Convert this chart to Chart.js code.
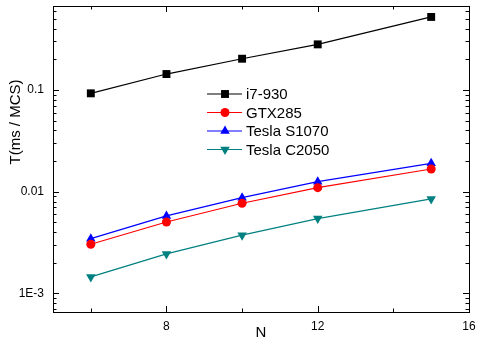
<!DOCTYPE html>
<html>
<head>
<meta charset="utf-8">
<script src="https://cdn.jsdelivr.net/npm/chart.js@4.4.0/dist/chart.umd.min.js"></script>
<style>
  html, body { margin: 0; padding: 0; background: #fff; }
  #wrap { width: 480px; height: 341px; }
</style>
</head>
<body>
<div id="wrap"><canvas id="timingChart" width="480" height="341"></canvas></div>
<script>
// N values
const xValues = [6, 8, 10, 12, 15];

// T (ms / MCS) per series
const i7Values = [0.0927, 0.1435, 0.203, 0.281, 0.523];
const gtx285Values = [0.00304, 0.00503, 0.00769, 0.01094, 0.0167];
const s1070Values = [0.00345, 0.00577, 0.00873, 0.01254, 0.019];
const c2050Values = [0.00145, 0.00244, 0.00373, 0.00543, 0.00848];

const seriesNames = ['i7-930', 'GTX285', 'Tesla S1070', 'Tesla C2050'];

// axis ticks
const xMajorTicks = [8, 12, 16];
const xMinorTicks = [6, 10, 14];
const yTickValues = [0.001, 0.01, 0.1];
const yTickLabels = ['1E-3', '0.01', '0.1'];

const FONT = '"Liberation Sans", Arial, sans-serif';

function pts(ys) {
  return xValues.map((x, i) => ({ x: x, y: ys[i] }));
}

const styles = [
  { color: '#000000', pointStyle: 'rect', radius: 5.6, rotation: 0 },
  { color: '#ff0000', pointStyle: 'circle', radius: 4.5, rotation: 0 },
  { color: '#0000ff', pointStyle: 'triangle', radius: 5.5, rotation: 0 },
  { color: '#008080', pointStyle: 'triangle', radius: 5.5, rotation: 180 }
];

const allValues = [i7Values, gtx285Values, s1070Values, c2050Values];

const datasets = allValues.map((vals, i) => ({
  label: seriesNames[i],
  data: pts(vals),
  borderColor: styles[i].color,
  backgroundColor: styles[i].color,
  borderWidth: 1.2,
  pointStyle: styles[i].pointStyle,
  pointRadius: styles[i].radius,
  pointRotation: styles[i].rotation,
  pointBorderWidth: 0,
  tension: 0
}));

const framePlugin = {
  id: 'frame',
  afterDraw(chart) {
    const ctx = chart.ctx;
    const a = chart.chartArea;
    const xs = chart.scales.x;
    const ys = chart.scales.y;
    ctx.save();
    ctx.strokeStyle = '#000';
    ctx.lineWidth = 1;
    ctx.strokeRect(Math.round(a.left) + 0.5, Math.round(a.top) + 0.5,
      Math.round(a.right - a.left), Math.round(a.bottom - a.top));

    function hTick(v, len) {
      const y = Math.round(ys.getPixelForValue(v)) + 0.5;
      ctx.beginPath();
      ctx.moveTo(a.left, y); ctx.lineTo(a.left + len, y);
      ctx.moveTo(a.right, y); ctx.lineTo(a.right - len, y);
      ctx.stroke();
    }
    function vTick(v, len) {
      const x = Math.round(xs.getPixelForValue(v)) + 0.5;
      ctx.beginPath();
      ctx.moveTo(x, a.bottom); ctx.lineTo(x, a.bottom - len);
      ctx.moveTo(x, a.top); ctx.lineTo(x, a.top + len);
      ctx.stroke();
    }
    yTickValues.forEach(v => hTick(v, 6));
    for (let d = -4; d <= 0; d++) {
      for (let k = 2; k <= 9; k++) {
        const v = k * Math.pow(10, d);
        if (v > ys.min && v < ys.max) hTick(v, 3.5);
      }
    }
    xMajorTicks.forEach(v => { if (v < xs.max) vTick(v, 6); });
    xMinorTicks.forEach(v => vTick(v, 3.5));

    // axis titles
    ctx.fillStyle = '#000';
    ctx.font = '15px ' + FONT;
    ctx.textAlign = 'center';
    ctx.textBaseline = 'middle';
    ctx.fillText('N', (a.left + a.right) / 2, 333);
    ctx.save();
    ctx.translate(16, 122);
    ctx.rotate(-Math.PI / 2);
    ctx.fillText('T(ms / MCS)', 0, 0);
    ctx.restore();

    // legend
    const lx0 = 207, lx1 = 242, mx = 225, tx = 246;
    const rowY = [94, 112.5, 131, 149.5];
    ctx.font = '15px ' + FONT;
    ctx.textAlign = 'left';
    chart.data.datasets.forEach((ds, i) => {
      const y = rowY[i];
      ctx.strokeStyle = ds.borderColor;
      ctx.lineWidth = 1.2;
      ctx.beginPath();
      ctx.moveTo(lx0, y); ctx.lineTo(lx1, y);
      ctx.stroke();
      ctx.fillStyle = ds.backgroundColor;
      Chart.helpers.drawPoint(ctx, {
        pointStyle: ds.pointStyle,
        radius: ds.pointRadius,
        rotation: ds.pointRotation,
        borderWidth: 0
      }, mx, y);
      ctx.fillStyle = '#000';
      ctx.fillText(ds.label, tx, y + 1);
    });
    ctx.restore();
  }
};

new Chart(document.getElementById('timingChart').getContext('2d'), {
  type: 'line',
  data: { datasets: datasets },
  options: {
    responsive: false,
    animation: false,
    layout: { autoPadding: false, padding: { top: 6, right: 11, left: 0, bottom: 0 } },
    plugins: {
      legend: { display: false },
      tooltip: { enabled: false }
    },
    scales: {
      x: {
        type: 'linear',
        min: 5,
        max: 16,
        grid: { display: false, drawTicks: false },
        border: { display: false },
        afterBuildTicks: s => { s.ticks = xMajorTicks.map(v => ({ value: v })); },
        afterFit: s => { s.height = 29; s.paddingLeft = 0; s.paddingRight = 0; },
        ticks: {
          color: '#000',
          padding: 7,
          maxRotation: 0,
          font: { family: FONT, size: 12 }
        }
      },
      y: {
        type: 'logarithmic',
        min: 0.000655,
        max: 0.67,
        grid: { display: false, drawTicks: false },
        border: { display: false },
        afterBuildTicks: s => { s.ticks = yTickValues.map(v => ({ value: v })); },
        afterFit: s => { s.width = 53; s.paddingTop = 0; s.paddingBottom = 0; },
        ticks: {
          color: '#000',
          padding: 9,
          font: { family: FONT, size: 12 },
          callback: v => yTickLabels[yTickValues.indexOf(v)]
        }
      }
    }
  },
  plugins: [framePlugin]
});
</script>
</body>
</html>
